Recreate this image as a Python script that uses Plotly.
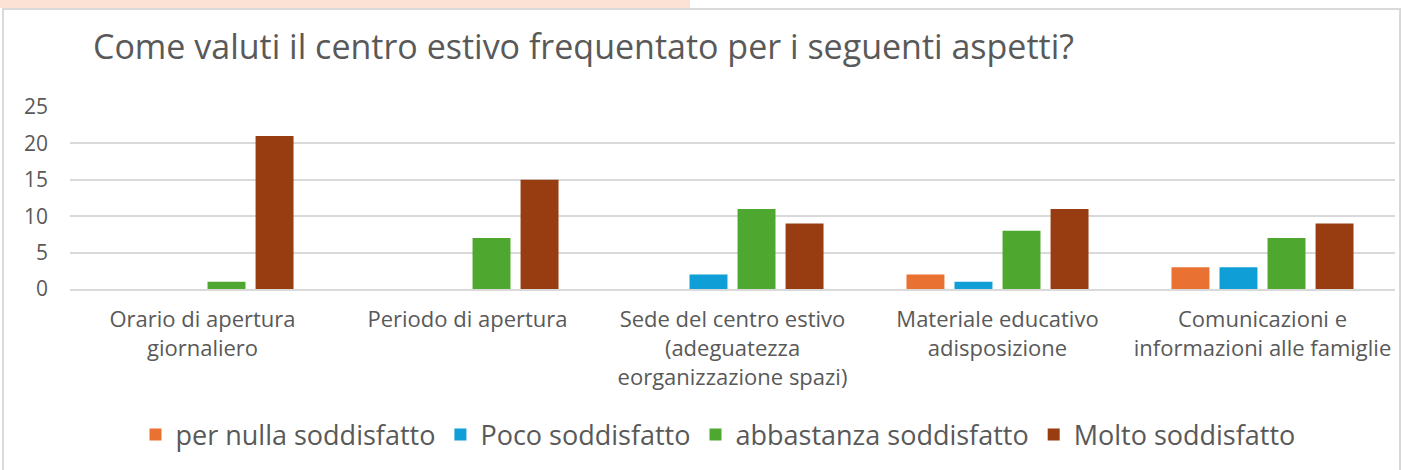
import plotly.graph_objects as go

categories = [
    "Orario di apertura<br>giornaliero",
    "Periodo di apertura",
    "Sede del centro estivo<br>(adeguatezza<br>eorganizzazione spazi)",
    "Materiale educativo<br>adisposizione",
    "Comunicazioni e<br>informazioni alle famiglie",
]
series_names = ["per nulla soddisfatto", "Poco soddisfatto", "abbastanza soddisfatto", "Molto soddisfatto"]
per_nulla = [0, 0, 0, 2, 3]
poco = [0, 0, 2, 1, 3]
abbastanza = [1, 7, 11, 8, 7]
molto = [21, 15, 9, 11, 9]
y_ticks = [0, 5, 10, 15, 20, 25]

colors = ["#E97132", "#0F9ED5", "#4EA72E", "#973D11"]
FONT = "Open Sans"
GRAY = "#595959"

W, H = 1403, 470
L, R, T, B = 70, 8, 107, 181
pw, ph = W - L - R, H - T - B

def px_x(x):
    return (x - L) / pw

def px_y(y):
    return (H - B - y) / ph

fig = go.Figure()
for name, vals, c in zip(series_names, [per_nulla, poco, abbastanza, molto], colors):
    fig.add_trace(go.Bar(name=name, x=categories, y=vals, marker=dict(color=c, line=dict(width=0))))

fig.update_layout(
    width=W, height=H,
    margin=dict(l=L, r=R, t=T, b=B, autoexpand=False),
    paper_bgcolor="white", plot_bgcolor="white",
    barmode="group", bargap=0.275, bargroupgap=0.21,
    font=dict(family=FONT, color=GRAY),
    title=dict(text="Come valuti il centro estivo frequentato per i seguenti aspetti?",
               x=93 / W, xref="container", xanchor="left",
               y=1 - 47 / H, yref="container", yanchor="middle",
               font=dict(size=34, color=GRAY, family=FONT)),
    legend=dict(orientation="h", x=px_x(718), xref="paper", xanchor="center",
                y=px_y(435), yref="paper", yanchor="middle",
                font=dict(size=27, color=GRAY, family=FONT),
                itemwidth=30, traceorder="normal"),
    showlegend=True,
)
fig.update_yaxes(range=[0, 25], tickvals=y_ticks, showgrid=True, gridcolor="#D9D9D9", gridwidth=2,
                 zeroline=False, showline=False, ticks="",
                 tickfont=dict(size=21, color=GRAY), ticklabelstandoff=21, fixedrange=True)
fig.update_xaxes(showgrid=False, showline=True, linecolor="#D9D9D9", linewidth=2, ticks="",
                 tickfont=dict(size=22, color=GRAY), ticklabelstandoff=10, tickangle=0)

# decorative frame and top strip
fig.add_shape(type="rect", xref="paper", yref="paper",
              x0=px_x(0), x1=px_x(690), y0=px_y(8), y1=px_y(0) + 0.1,
              fillcolor="#FBE2D5", line=dict(width=0), layer="below")
fig.add_shape(type="rect", xref="paper", yref="paper",
              x0=px_x(3), x1=px_x(1400), y0=px_y(480), y1=px_y(9),
              fillcolor="rgba(0,0,0,0)", line=dict(color="#D9D9D9", width=2), layer="below")

fig.write_html("out.html", config={"displayModeBar": False},
               post_script="document.body.style.margin='0';")
